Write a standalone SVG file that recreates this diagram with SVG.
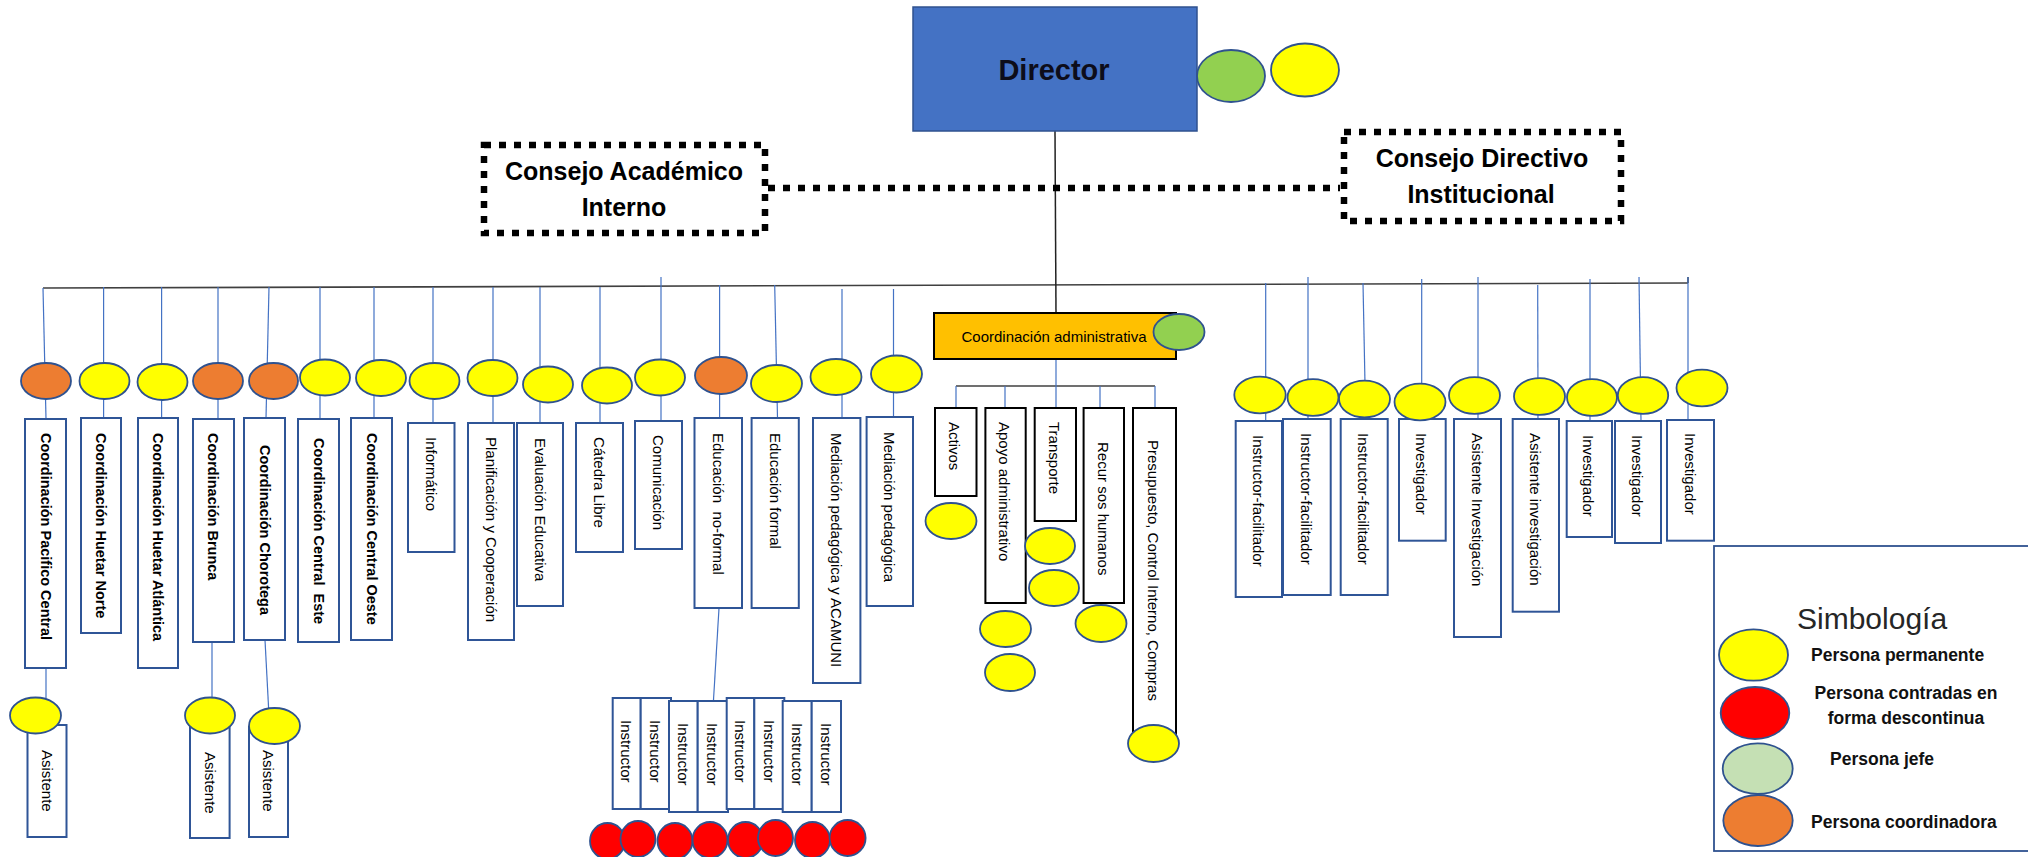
<svg xmlns="http://www.w3.org/2000/svg" width="2028" height="857" viewBox="0 0 2028 857">
<style>
.bx{fill:#fff;stroke:#2F5597;stroke-width:2}
.kb{fill:#fff;stroke:#000;stroke-width:2}
.y{fill:#FFFF00;stroke:#2F528F;stroke-width:1.8}
.o{fill:#ED7D31;stroke:#2F528F;stroke-width:1.8}
.r{fill:#FF0000;stroke:#2F528F;stroke-width:1.8}
.g{fill:#92D050;stroke:#2F528F;stroke-width:1.8}
.lg{fill:#C5E0B4;stroke:#2F528F;stroke-width:1.8}
.t{font-family:"Liberation Sans",Arial,sans-serif;font-size:15px;fill:#000;white-space:pre}
.b{font-weight:bold;font-size:14.5px}
.ln{stroke:#4472C4;stroke-width:1.2;fill:none}
.bar{stroke:#404040;stroke-width:1.6;fill:none}
.dot{fill:none;stroke:#000;stroke-width:6.5;stroke-dasharray:7 8}
.h{font-family:"Liberation Sans",Arial,sans-serif;font-weight:bold;font-size:25px;fill:#000;text-anchor:middle}
.lt{font-family:"Liberation Sans",Arial,sans-serif;font-weight:bold;font-size:17.5px;fill:#111}
</style>

<g id="connectors">
  <line class="bar" x1="43" y1="288" x2="1688" y2="283"/>
  <line class="bar" x1="1688" y1="277" x2="1688" y2="283"/>
  <line x1="1055" y1="131" x2="1056" y2="313" stroke="#222" stroke-width="1.5"/>
  <line class="dot" x1="768" y1="188" x2="1340" y2="188"/>
  <!-- left drops -->
  <polyline class="ln" points="43,288 46,419"/>
  <line class="ln" x1="103.6" y1="287" x2="103.6" y2="418"/>
  <line class="ln" x1="161.6" y1="287" x2="161.6" y2="418"/>
  <line class="ln" x1="218" y1="287" x2="218" y2="419"/>
  <line class="ln" x1="269" y1="287" x2="266" y2="418"/>
  <line class="ln" x1="320" y1="287" x2="320" y2="419"/>
  <line class="ln" x1="374" y1="287" x2="374" y2="418"/>
  <line class="ln" x1="433" y1="287" x2="433" y2="423"/>
  <line class="ln" x1="493" y1="287" x2="493" y2="423"/>
  <line class="ln" x1="540" y1="287" x2="540" y2="423"/>
  <line class="ln" x1="600" y1="287" x2="600" y2="423"/>
  <line class="ln" x1="661" y1="277" x2="661" y2="421"/>
  <line class="ln" x1="719.6" y1="285" x2="719.6" y2="418"/>
  <line class="ln" x1="774.7" y1="285" x2="777.5" y2="418"/>
  <line class="ln" x1="842" y1="289" x2="842" y2="418"/>
  <line class="ln" x1="893.5" y1="289" x2="893.5" y2="417"/>
  <!-- right drops -->
  <line class="ln" x1="1265.7" y1="283" x2="1265.7" y2="421"/>
  <line class="ln" x1="1308" y1="277" x2="1308" y2="419"/>
  <line class="ln" x1="1363" y1="283" x2="1365.7" y2="419"/>
  <line class="ln" x1="1421.7" y1="279" x2="1421.7" y2="419"/>
  <line class="ln" x1="1478" y1="277" x2="1478" y2="419"/>
  <line class="ln" x1="1537.7" y1="285" x2="1538" y2="419"/>
  <line class="ln" x1="1590" y1="279" x2="1590" y2="421"/>
  <line class="ln" x1="1639" y1="277" x2="1641" y2="421"/>
  <line class="ln" x1="1688" y1="277" x2="1688" y2="420"/>
  <!-- admin sub-tree -->
  <line class="bar" x1="956" y1="386" x2="1155" y2="386"/>
  <line class="ln" x1="1056" y1="359" x2="1056" y2="408"/>
  <line class="ln" x1="956" y1="386" x2="956" y2="408"/>
  <line class="ln" x1="1005" y1="386" x2="1005" y2="408"/>
  <line class="ln" x1="1100" y1="386" x2="1100" y2="408"/>
  <line class="ln" x1="1155" y1="386" x2="1155" y2="408"/>
  <!-- assistants and instructors -->
  <line class="ln" x1="46" y1="668" x2="46" y2="698"/>
  <line class="ln" x1="212" y1="642" x2="212" y2="698"/>
  <line class="ln" x1="265" y1="640" x2="268.6" y2="708"/>
  <line class="ln" x1="719" y1="608" x2="713.5" y2="700"/>
</g>

<g id="director">
  <rect x="913" y="7" width="284" height="124" fill="#4472C4" stroke="#2F528F" stroke-width="1.5"/>
  <text x="1054" y="80" font-family="Liberation Sans,Arial,sans-serif" font-weight="bold" font-size="29" text-anchor="middle" fill="#0d0d1a">Director</text>
  <ellipse class="g" cx="1231" cy="76" rx="34" ry="26"/>
  <ellipse class="y" cx="1305" cy="70" rx="34" ry="26.5"/>
</g>

<g id="consejo-academico">
  <rect class="dot" x="484" y="145" width="281" height="88"/>
  <text class="h" x="624" y="180">Consejo Académico</text>
  <text class="h" x="624" y="216">Interno</text>
</g>

<g id="consejo-directivo">
  <rect class="dot" x="1344" y="132" width="277" height="89"/>
  <text class="h" x="1482" y="167">Consejo Directivo</text>
  <text class="h" x="1481" y="203">Institucional</text>
</g>

<g id="n-pacifico-central">
  <rect class="bx" x="25" y="419" width="41" height="249"/>
  <ellipse class="o" cx="46" cy="381" rx="25" ry="18"/>
  <text class="t b" transform="translate(45.5,433) rotate(90)" y="5">Coordinación Pacifico Central</text>
</g>
<g id="n-huetar-norte">
  <rect class="bx" x="81" y="418" width="40" height="215"/>
  <ellipse class="y" cx="104.5" cy="381" rx="25" ry="18"/>
  <text class="t b" transform="translate(101,433) rotate(90)" y="5">Coordinación Huetar Norte</text>
</g>
<g id="n-huetar-atlantica">
  <rect class="bx" x="138" y="418" width="40" height="250"/>
  <ellipse class="y" cx="162.5" cy="382" rx="25" ry="18"/>
  <text class="t b" transform="translate(157.6,433) rotate(90)" y="5">Coordinación Huetar Atlántica</text>
</g>
<g id="n-brunca">
  <rect class="bx" x="193" y="419" width="41" height="223"/>
  <ellipse class="o" cx="218" cy="381" rx="25" ry="18"/>
  <text class="t b" transform="translate(213,433) rotate(90)" y="5">Coordinación Brunca</text>
</g>
<g id="n-chorotega">
  <rect class="bx" x="244" y="418" width="41" height="222"/>
  <ellipse class="o" cx="273.5" cy="381" rx="24.5" ry="18"/>
  <text class="t b" transform="translate(264.5,445) rotate(90)" y="5">Coordinación Chorotega</text>
</g>
<g id="n-central-este">
  <rect class="bx" x="298" y="419" width="41" height="223"/>
  <ellipse class="y" cx="325" cy="377.5" rx="25" ry="18"/>
  <text class="t b" transform="translate(318.5,438) rotate(90)" y="5">Coordinación Central  Este</text>
</g>
<g id="n-central-oeste">
  <rect class="bx" x="351" y="418" width="41" height="222"/>
  <ellipse class="y" cx="381" cy="378" rx="25" ry="18"/>
  <text class="t b" transform="translate(371.5,433) rotate(90)" y="5">Coordinación Central Oeste</text>
</g>
<g id="n-informatico">
  <rect class="bx" x="408" y="423" width="46.5" height="129"/>
  <ellipse class="y" cx="434.5" cy="381" rx="25" ry="18"/>
  <text class="t" transform="translate(431,437) rotate(90)" y="5.3">Informático</text>
</g>
<g id="n-planificacion">
  <rect class="bx" x="468" y="423" width="46" height="217"/>
  <ellipse class="y" cx="492.5" cy="378" rx="25" ry="18"/>
  <text class="t" transform="translate(491,437) rotate(90)" y="5.3">Planificación y Cooperación</text>
</g>
<g id="n-evaluacion">
  <rect class="bx" x="517" y="423" width="46" height="183"/>
  <ellipse class="y" cx="548" cy="384.5" rx="25" ry="18"/>
  <text class="t" transform="translate(540,438) rotate(90)" y="5.3">Evaluación Educativa</text>
</g>
<g id="n-catedra">
  <rect class="bx" x="576" y="423" width="47" height="129"/>
  <ellipse class="y" cx="607" cy="385.5" rx="25" ry="18"/>
  <text class="t" transform="translate(599.5,437) rotate(90)" y="5.3">Cátedra Libre</text>
</g>
<g id="n-comunicacion">
  <rect class="bx" x="635" y="421" width="47" height="128"/>
  <ellipse class="y" cx="660" cy="377.5" rx="25" ry="18"/>
  <text class="t" transform="translate(658.5,435) rotate(90)" y="5.3">Comunicación</text>
</g>
<g id="n-edu-noformal">
  <rect class="bx" x="694.5" y="418" width="47.5" height="190"/>
  <ellipse class="o" cx="721" cy="375.5" rx="26" ry="18.5"/>
  <text class="t" transform="translate(718,433) rotate(90)" y="5.3">Educación  no-formal</text>
</g>
<g id="n-edu-formal">
  <rect class="bx" x="751.6" y="418" width="47.2" height="190"/>
  <ellipse class="y" cx="776.5" cy="383.5" rx="25.5" ry="18.5"/>
  <text class="t" transform="translate(775,433) rotate(90)" y="5.3">Educación formal</text>
</g>
<g id="n-mediacion-acamuni">
  <rect class="bx" x="813" y="418" width="47.4" height="265"/>
  <ellipse class="y" cx="836" cy="377" rx="25.5" ry="18"/>
  <text class="t" transform="translate(836.5,433) rotate(90)" y="5.3">Mediación pedagógica y ACAMUNI</text>
</g>
<g id="n-mediacion">
  <rect class="bx" x="866.6" y="417" width="46.4" height="189"/>
  <ellipse class="y" cx="896.5" cy="374" rx="25.5" ry="18.5"/>
  <text class="t" transform="translate(889.8,432) rotate(90)" y="5.3">Mediación pedagógica</text>
</g>

<g id="n-asistente-1">
  <rect class="bx" x="27.5" y="725" width="39" height="112"/>
  <ellipse class="y" cx="35.5" cy="715.5" rx="25.5" ry="18"/>
  <text class="t" transform="translate(47,750) rotate(90)" y="5.3">Asistente</text>
</g>
<g id="n-asistente-2">
  <rect class="bx" x="190" y="727" width="39.6" height="111"/>
  <ellipse class="y" cx="210" cy="715.5" rx="25" ry="18"/>
  <text class="t" transform="translate(210,752) rotate(90)" y="5.3">Asistente</text>
</g>
<g id="n-asistente-3">
  <rect class="bx" x="249" y="727" width="39" height="110"/>
  <ellipse class="y" cx="274.5" cy="726" rx="25.5" ry="18"/>
  <text class="t" transform="translate(268.5,750) rotate(90)" y="5.3">Asistente</text>
</g>

<g id="n-instructores">
  <rect class="bx" x="612.7" y="698" width="28" height="111"/>
  <rect class="bx" x="640.7" y="698" width="30.3" height="111"/>
  <rect class="bx" x="669" y="701" width="28.7" height="111"/>
  <rect class="bx" x="697.7" y="701" width="30.3" height="111"/>
  <rect class="bx" x="726.7" y="698" width="27.6" height="111"/>
  <rect class="bx" x="754.3" y="698" width="30" height="111"/>
  <rect class="bx" x="782.7" y="701" width="29" height="111"/>
  <rect class="bx" x="811.7" y="701" width="29.3" height="111"/>
  <text class="t" font-size="16" transform="translate(626.7,720) rotate(90)" y="5.6">Instructor</text>
  <text class="t" font-size="16" transform="translate(655.8,720) rotate(90)" y="5.6">Instructor</text>
  <text class="t" font-size="16" transform="translate(683.3,723) rotate(90)" y="5.6">Instructor</text>
  <text class="t" font-size="16" transform="translate(712.8,723) rotate(90)" y="5.6">Instructor</text>
  <text class="t" font-size="16" transform="translate(740.5,720) rotate(90)" y="5.6">Instructor</text>
  <text class="t" font-size="16" transform="translate(769.3,720) rotate(90)" y="5.6">Instructor</text>
  <text class="t" font-size="16" transform="translate(797.2,723) rotate(90)" y="5.6">Instructor</text>
  <text class="t" font-size="16" transform="translate(826.3,723) rotate(90)" y="5.6">Instructor</text>
  <ellipse class="r" cx="607.5" cy="841" rx="17.5" ry="18"/>
  <ellipse class="r" cx="638" cy="839" rx="17.5" ry="18"/>
  <ellipse class="r" cx="675" cy="841" rx="17.5" ry="18"/>
  <ellipse class="r" cx="710" cy="840" rx="17.5" ry="18"/>
  <ellipse class="r" cx="745.5" cy="840" rx="17.5" ry="18"/>
  <ellipse class="r" cx="775.5" cy="838" rx="17.5" ry="18"/>
  <ellipse class="r" cx="812.5" cy="840" rx="17.5" ry="18"/>
  <ellipse class="r" cx="847.6" cy="838" rx="18" ry="18"/>
</g>

<g id="n-coord-admin">
  <rect x="934" y="313" width="242" height="46" fill="#FFC000" stroke="#000" stroke-width="2"/>
  <text class="t" font-size="15.5" x="1054" y="342" text-anchor="middle">Coordinación administrativa</text>
  <ellipse class="g" cx="1179" cy="332" rx="25.5" ry="18"/>
</g>
<g id="n-activos">
  <rect class="kb" x="935" y="408" width="41.5" height="88"/>
  <text class="t" transform="translate(954.5,422) rotate(90)" y="5.3">Activos</text>
  <ellipse class="y" cx="951" cy="521" rx="25.5" ry="18"/>
</g>
<g id="n-apoyo">
  <rect class="kb" x="985.4" y="408" width="40.3" height="195"/>
  <text class="t" transform="translate(1004,422) rotate(90)" y="5.3">Apoyo administrativo</text>
  <ellipse class="y" cx="1005.5" cy="629" rx="25.5" ry="18"/>
  <ellipse class="y" cx="1010" cy="672.5" rx="25" ry="18.5"/>
</g>
<g id="n-transporte">
  <rect class="kb" x="1034.7" y="408" width="41.3" height="113"/>
  <text class="t" transform="translate(1054.3,422) rotate(90)" y="5.3">Transporte</text>
  <ellipse class="y" cx="1050" cy="546" rx="25" ry="18"/>
  <ellipse class="y" cx="1054" cy="588" rx="25" ry="18"/>
</g>
<g id="n-recursos">
  <rect class="kb" x="1083.6" y="408" width="40.4" height="195"/>
  <text class="t" transform="translate(1103,442) rotate(90)" y="5.3">Recur sos humanos</text>
  <ellipse class="y" cx="1101" cy="623.5" rx="25.5" ry="18.5"/>
</g>
<g id="n-presupuesto">
  <rect class="kb" x="1133" y="408" width="43" height="334"/>
  <text class="t" transform="translate(1153.5,440) rotate(90)" y="5.3">Presupuesto, Control Interno, Compras</text>
  <ellipse class="y" cx="1153.5" cy="743.5" rx="25.5" ry="18.5"/>
</g>

<g id="n-instructor-fac-1">
  <rect class="bx" x="1235.7" y="421" width="46.3" height="176"/>
  <ellipse class="y" cx="1260" cy="395" rx="25.7" ry="18.3"/>
  <text class="t" transform="translate(1258.5,435) rotate(90)" y="5.3">Instructor-facilitador</text>
</g>
<g id="n-instructor-fac-2">
  <rect class="bx" x="1283" y="419" width="47.7" height="176"/>
  <ellipse class="y" cx="1313" cy="397.5" rx="25.5" ry="18.3"/>
  <text class="t" transform="translate(1306.5,433) rotate(90)" y="5.3">Instructor-facilitador</text>
</g>
<g id="n-instructor-fac-3">
  <rect class="bx" x="1340.7" y="419" width="47" height="176"/>
  <ellipse class="y" cx="1364.5" cy="399" rx="25.5" ry="18.3"/>
  <text class="t" transform="translate(1363,433) rotate(90)" y="5.3">Instructor-facilitador</text>
</g>
<g id="n-investigador-1">
  <rect class="bx" x="1399" y="419" width="46.7" height="121.7"/>
  <ellipse class="y" cx="1420" cy="402" rx="25.5" ry="18.3"/>
  <text class="t" font-size="15.5" transform="translate(1421.5,433) rotate(90)" y="5.5">Investigador</text>
</g>
<g id="n-asistente-inv-1">
  <rect class="bx" x="1454" y="419" width="47" height="218"/>
  <ellipse class="y" cx="1474.5" cy="395.5" rx="25.5" ry="18.3"/>
  <text class="t" font-size="15.5" transform="translate(1477,433) rotate(90)" y="5.5">Asistente Investigación</text>
</g>
<g id="n-asistente-inv-2">
  <rect class="bx" x="1512.7" y="419" width="46.3" height="192.7"/>
  <ellipse class="y" cx="1539.5" cy="396.5" rx="25.5" ry="18.3"/>
  <text class="t" font-size="15.5" transform="translate(1535,433) rotate(90)" y="5.5">Asistente investigación</text>
</g>
<g id="n-investigador-2">
  <rect class="bx" x="1566.7" y="421" width="45.3" height="116"/>
  <ellipse class="y" cx="1592" cy="397.5" rx="25" ry="18.3"/>
  <text class="t" font-size="15.5" transform="translate(1588.7,435) rotate(90)" y="5.5">Investigador</text>
</g>
<g id="n-investigador-3">
  <rect class="bx" x="1615" y="421" width="46" height="122"/>
  <ellipse class="y" cx="1643" cy="395.5" rx="25.2" ry="18.3"/>
  <text class="t" font-size="15.5" transform="translate(1637,435) rotate(90)" y="5.5">Investigador</text>
</g>
<g id="n-investigador-4">
  <rect class="bx" x="1667" y="420" width="47" height="120.7"/>
  <ellipse class="y" cx="1702" cy="388" rx="25.5" ry="18.3"/>
  <text class="t" font-size="15.5" transform="translate(1690.5,433) rotate(90)" y="5.5">Investigador</text>
</g>

<g id="legend">
  <rect x="1714" y="546" width="320" height="305" fill="#fff" stroke="#2F528F" stroke-width="1.8"/>
  <text x="1797" y="629" font-family="Liberation Sans,Arial,sans-serif" font-size="30" fill="#262626">Simbología</text>
  <ellipse class="y" cx="1753.5" cy="655" rx="34.5" ry="25.7"/>
  <text class="lt" x="1811" y="661">Persona permanente</text>
  <ellipse class="r" cx="1755" cy="713" rx="34.3" ry="26"/>
  <text class="lt" x="1906" y="699" text-anchor="middle">Persona contradas en</text>
  <text class="lt" x="1906" y="724" text-anchor="middle">forma descontinua</text>
  <ellipse class="lg" cx="1757.7" cy="768.7" rx="35" ry="25.3"/>
  <text class="lt" x="1830" y="765">Persona jefe</text>
  <ellipse class="o" cx="1758" cy="820.5" rx="34.7" ry="25.5"/>
  <text class="lt" x="1811" y="828">Persona coordinadora</text>
</g>
</svg>
